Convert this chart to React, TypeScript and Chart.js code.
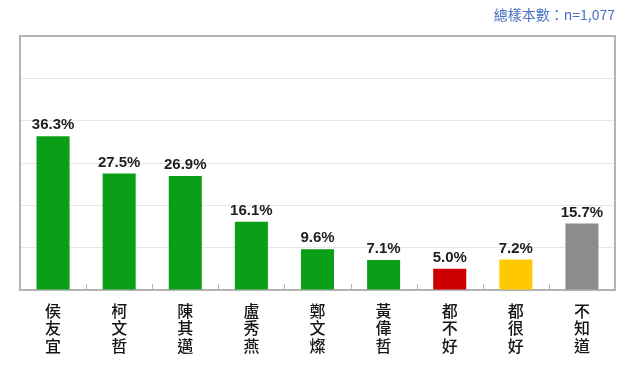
import React, { useEffect, useRef } from 'react';
import { Chart, registerables } from 'chart.js';

Chart.register(...registerables);

const categories = ['侯友宜', '柯文哲', '陳其邁', '盧秀燕', '鄭文燦', '黃偉哲', '都不好', '都很好', '不知道'];
const values = [36.3, 27.5, 26.9, 16.1, 9.6, 7.1, 5.0, 7.2, 15.7];
const barColors = ['#0a9f17', '#0a9f17', '#0a9f17', '#0a9f17', '#0a9f17', '#0a9f17', '#cc0000', '#ffc800', '#8c8c8c'];
const yMax = 60;
const yStep = 10;
const sampleNote = '總樣本數：n=1,077';

const framePlugin = {
  id: 'frame',
  beforeDatasetsDraw(chart: any) {
    const { ctx, chartArea } = chart;
    const x = chart.scales.x;
    ctx.save();
    ctx.strokeStyle = '#b4b4b4';
    ctx.lineWidth = 2;
    ctx.strokeRect(chartArea.left, chartArea.top, chartArea.right - chartArea.left, chartArea.bottom - chartArea.top);
    ctx.lineWidth = 1;
    ctx.strokeStyle = '#b8b8b8';
    for (let i = 1; i < categories.length; i++) {
      const px = Math.round((x.getPixelForValue(i - 1) + x.getPixelForValue(i)) / 2) + 0.5;
      ctx.beginPath();
      ctx.moveTo(px, chartArea.bottom);
      ctx.lineTo(px, chartArea.bottom - 6);
      ctx.stroke();
    }
    ctx.restore();
  },
};

const valueLabelPlugin = {
  id: 'valueLabels',
  afterDatasetsDraw(chart: any) {
    const { ctx } = chart;
    const meta = chart.getDatasetMeta(0);
    ctx.save();
    ctx.font = 'bold 15px "Liberation Sans", Arial, sans-serif';
    ctx.fillStyle = '#1e1e1e';
    ctx.textAlign = 'center';
    ctx.textBaseline = 'alphabetic';
    meta.data.forEach((bar: any, i: number) => {
      ctx.fillText(values[i].toFixed(1) + '%', bar.x, bar.y - 7);
    });
    ctx.restore();
  },
};

export default function App() {
  const canvasRef = useRef<HTMLCanvasElement | null>(null);

  useEffect(() => {
    if (!canvasRef.current) return;
    const chart = new Chart(canvasRef.current, {
      type: 'bar',
      data: {
        labels: categories.map((c) => c.split('')),
        datasets: [
          {
            data: values,
            backgroundColor: barColors,
            borderWidth: 0,
            barPercentage: 0.5,
            categoryPercentage: 1.0,
          },
        ],
      },
      options: {
        animation: false,
        responsive: false,
        devicePixelRatio: 1,
        layout: { padding: { left: 20, right: 25, top: 0, bottom: 0 } },
        plugins: {
          legend: { display: false },
          tooltip: { enabled: false },
          title: {
            display: true,
            text: sampleNote,
            align: 'end',
            color: '#4a73c0',
            font: { family: '"Noto Sans CJK TC", sans-serif', size: 14, weight: 'normal', lineHeight: 1.2 },
            padding: { top: 6, bottom: 13.2 },
          },
        },
        scales: {
          x: {
            grid: { display: false, drawTicks: false },
            border: { display: false },
            ticks: {
              color: '#161616',
              font: { family: '"Noto Sans CJK TC", sans-serif', size: 16, weight: '500', lineHeight: 1.09 },
              padding: 12,
              maxRotation: 0,
              autoSkip: false,
            },
            afterFit(scale: any) {
              scale.height = 88;
            },
          },
          y: {
            min: 0,
            max: yMax,
            ticks: { display: false, stepSize: yStep },
            grid: { color: '#e6e6e6', lineWidth: 1, drawTicks: false },
            border: { display: false },
          },
        },
      },
      plugins: [framePlugin, valueLabelPlugin],
    });
    return () => chart.destroy();
  }, []);

  return (
    <div style={{ position: 'absolute', left: 0, top: 0, width: 640, height: 378, background: '#ffffff' }}>
      <canvas ref={canvasRef} width={640} height={378} />
    </div>
  );
}
